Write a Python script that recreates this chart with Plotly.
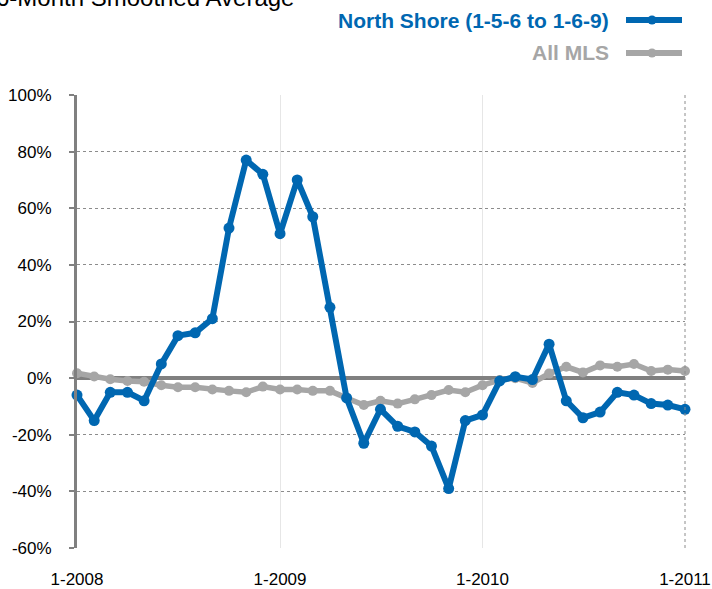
import pandas as pd
import plotly.graph_objects as go

# monthly points, Jan 2008 .. Jan 2011
months = pd.date_range("2008-01-01", periods=37, freq="MS")

north_shore = [
    -6, -15, -5, -5, -8, 5, 15, 16, 21, 53, 77, 72, 51,
    70, 57, 25, -7, -23, -11, -17, -19, -24, -39, -15, -13,
    -1, 0.5, -0.5, 12, -8, -14, -12, -5, -6, -9, -9.5, -11,
]
all_mls = [
    1.7, 0.6, -0.4, -1, -1.3, -2.5, -3.2, -3.2, -4, -4.5, -5, -3, -4,
    -4, -4.5, -4.5, -7, -9.5, -8, -9, -7.5, -6, -4.2, -5, -2.5,
    -0.7, 0, -1.7, 1.6, 4, 2, 4.5, 4, 5, 2.5, 3, 2.5,
]

y_ticks = [-60, -40, -20, 0, 20, 40, 60, 80, 100]
x_ticks = ["2008-01-01", "2009-01-01", "2010-01-01", "2011-01-01"]
x_labels = ["1-2008", "1-2009", "1-2010", "1-2011"]

BLUE = "#0067b1"
GREY = "#a6a6a6"
FONT = "Arial, Liberation Sans"

# plot area in pixels: left 77, right 685, top 95, bottom 548
PW, PH = 608, 453


def px_x(v):
    return (v - 77) / PW


def px_y(v):
    return (548 - v) / PH


fig = go.Figure()
fig.add_trace(
    go.Scatter(
        x=months, y=all_mls, name="All MLS", mode="lines+markers",
        line=dict(color=GREY, width=5.5), marker=dict(size=10, color=GREY),
        cliponaxis=False,
    )
)
fig.add_trace(
    go.Scatter(
        x=months, y=north_shore, name="North Shore (1-5-6 to 1-6-9)",
        mode="lines+markers",
        line=dict(color=BLUE, width=6), marker=dict(size=11, color=BLUE),
        cliponaxis=False,
    )
)

# legend drawn by hand: text right aligned, sample line on the right
legend_rows = [("North Shore (1-5-6 to 1-6-9)", BLUE, 20), ("All MLS", GREY, 53)]
for label, color, ypx in legend_rows:
    fig.add_annotation(
        text="<b>%s</b>" % label, xref="paper", yref="paper",
        x=px_x(611), y=px_y(ypx), xanchor="right", yanchor="middle",
        showarrow=False, font=dict(family=FONT, size=21, color=color),
    )
    fig.add_shape(
        type="line", xref="paper", yref="paper",
        x0=px_x(626), x1=px_x(682), y0=px_y(ypx), y1=px_y(ypx),
        line=dict(color=color, width=6),
    )
    fig.add_shape(
        type="circle", xref="paper", yref="paper", fillcolor=color,
        line=dict(color=color, width=0),
        x0=px_x(647.5), x1=px_x(656.5), y0=px_y(ypx + 4.5), y1=px_y(ypx - 4.5),
    )

# title, cut off at the top like in the source image
fig.add_annotation(
    text="6-Month Smoothed Average", xref="paper", yref="paper",
    x=px_x(-6), y=px_y(-3), xanchor="left", yanchor="middle",
    showarrow=False, font=dict(family=FONT, size=24, color="black"),
)

# dotted right border
fig.add_shape(
    type="line", xref="paper", yref="paper", x0=1, x1=1, y0=0, y1=1,
    line=dict(color="#8c8c8c", width=1, dash="dot"),
)

fig.update_xaxes(
    range=[months[0], months[-1]],
    tickvals=x_ticks, ticktext=x_labels,
    showgrid=True, gridcolor="#e6e6e6", gridwidth=1,
    showline=False, ticks="", ticklabelstandoff=19, automargin=False,
    tickfont=dict(family=FONT, size=17, color="black"),
)
fig.update_yaxes(
    range=[-60, 100], tickvals=y_ticks,
    ticktext=["%d%%" % v for v in y_ticks],
    showgrid=True, gridcolor="#8c8c8c", gridwidth=1, griddash="dot",
    zeroline=True, zerolinecolor="#808080", zerolinewidth=4,
    showline=True, linecolor="#808080", linewidth=3,
    ticks="outside", ticklen=5, tickcolor="#808080", tickwidth=2,
    ticklabelstandoff=14, automargin=False,
    tickfont=dict(family=FONT, size=17, color="black"),
)

fig.update_layout(
    width=712, height=589,
    margin=dict(l=77, r=712 - 685, t=95, b=589 - 548),
    plot_bgcolor="white", paper_bgcolor="white",
    showlegend=False,
)

# drop the browser's default 8px body margin so the figure sits at 0,0
fig.write_html(
    "out.html",
    config={"displayModeBar": False},
    post_script="document.body.style.margin = '0';",
)
